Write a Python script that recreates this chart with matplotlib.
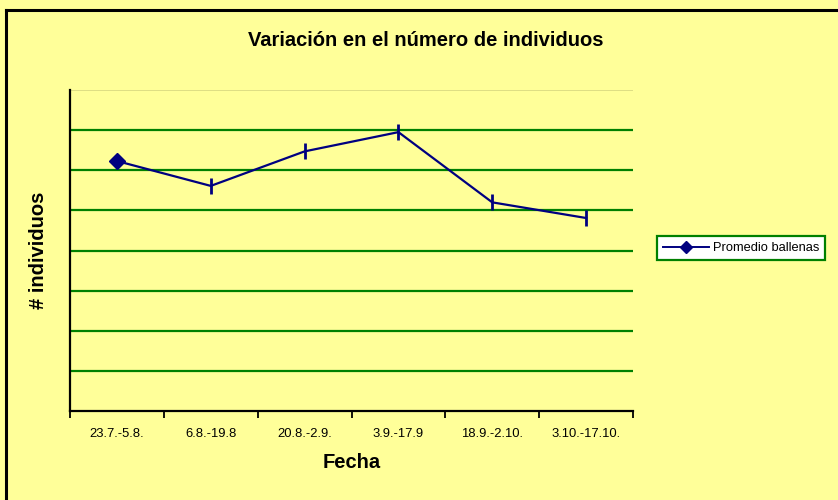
import numpy as np
import matplotlib.pyplot as plt
from matplotlib.lines import Line2D

plt.rcParams['font.family'] = ['Liberation Sans', 'DejaVu Sans']

fechas = ["23.7.-5.8.", "6.8.-19.8", "20.8.-2.9.", "3.9.-17.9", "18.9.-2.10.", "3.10.-17.10."]
promedio = [6.23, 5.61, 6.47, 6.95, 5.20, 4.81]

bg = '#FFFF99'
navy = '#000080'
green = '#008000'

fig = plt.figure(figsize=(8.38, 5.0), dpi=100, facecolor=bg)
ax = fig.add_axes([70/838, 1 - 411/500, 563/838, 321/500])
ax.set_facecolor(bg)

x = np.arange(len(fechas))
ax.plot(x, promedio, color=navy, lw=1.6, zorder=3)
ax.plot(x[:1], promedio[:1], marker='D', color=navy, ms=8, ls='none', zorder=4)
ax.plot(x[1:], promedio[1:], marker='|', color=navy, ms=11, mew=2, ls='none', zorder=4)

ax.set_xlim(-0.5, len(fechas) - 0.5)
ax.set_ylim(0, 8)
for yv in range(1, 8):
    ax.axhline(yv, color=green, lw=1.6, zorder=1)
ax.axhline(8, color='#D8D880', lw=1.2, zorder=1)

ax.set_yticks(range(0, 9))
ax.set_yticklabels([])
ax.tick_params(axis='y', length=0)
ax.set_xticks(np.arange(-0.5, len(fechas), 1.0), minor=False)
ax.set_xticklabels([])
ax.set_xticks(x, minor=True)
ax.set_xticklabels(fechas, minor=True, fontsize=9.4)
ax.tick_params(axis='x', which='major', length=5, width=1.3, direction='out', color='black')
ax.tick_params(axis='x', which='minor', length=0, pad=12)

for s in ['top', 'right']:
    ax.spines[s].set_visible(False)
ax.spines['left'].set_linewidth(1.6)
ax.spines['bottom'].set_linewidth(1.6)

fig.text(426/838, 1 - 40/500, "Variación en el número de individuos", ha='center', va='center',
         fontsize=14.5, fontweight='bold')
fig.text(352/838, 1 - 463/500, "Fecha", ha='center', va='center', fontsize=14.5, fontweight='bold')
fig.text(38/838, 1 - 250/500, "# individuos", ha='center', va='center', rotation=90,
         fontsize=14.5, fontweight='bold')

handle = Line2D([], [], color=navy, marker='D', ms=6, lw=1.4)
leg = fig.legend([handle], ["Promedio ballenas"], loc='center', bbox_to_anchor=(741/838, 1 - 248/500),
                 fontsize=9.3, frameon=True, fancybox=False, handlelength=3.6, borderpad=0.45,
                 handletextpad=0.3)
leg.get_frame().set_edgecolor(green)
leg.get_frame().set_linewidth(1.6)
leg.get_frame().set_facecolor('white')
leg.get_frame().set_alpha(1)

fig.add_artist(Line2D([6/838, 6/838], [0, 1 - 10/500], color='black', lw=2.2, transform=fig.transFigure))
fig.add_artist(Line2D([6/838, 1], [1 - 10/500, 1 - 10/500], color='black', lw=2.2, transform=fig.transFigure))

fig.savefig('out.png', dpi=100, facecolor=bg)
